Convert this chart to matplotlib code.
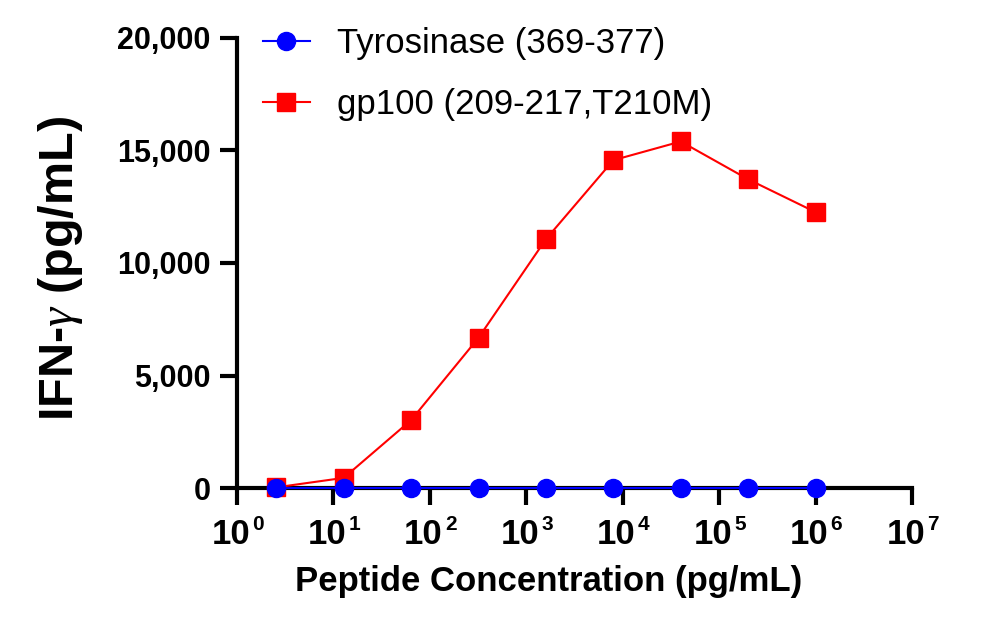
import matplotlib
matplotlib.use("Agg")
import matplotlib.pyplot as plt
from matplotlib.ticker import FuncFormatter, FixedLocator, NullLocator

plt.rcParams['font.family'] = ['Liberation Sans', 'DejaVu Sans']
plt.rcParams['mathtext.fontset'] = 'custom'
plt.rcParams['mathtext.rm'] = 'Liberation Sans:bold'
plt.rcParams['mathtext.bf'] = 'Liberation Sans:bold'
plt.rcParams['mathtext.it'] = 'Liberation Serif:italic'

concentration = [2.56, 12.8, 64, 320, 1600, 8000, 40000, 200000, 1000000]
tyrosinase = [20, 20, 20, 20, 20, 20, 20, 20, 20]
gp100 = [30, 450, 3020, 6680, 11060, 14570, 15400, 13720, 12260]
series_names = ["Tyrosinase (369-377)", "gp100 (209-217,T210M)"]
y_ticks = [0, 5000, 10000, 15000, 20000]
x_ticks = [1, 10, 100, 1000, 10000, 100000, 1000000, 10000000]
x_exponents = ["0", "1", "2", "3", "4", "5", "6", "7"]

fig = plt.figure(figsize=(9.84, 6.18), dpi=100)
ax = fig.add_axes([237/984, 1-488/618, (912-237)/984, (488-38)/618])

ax.plot(concentration, gp100, color='#FF0000', marker='s', markersize=13,
        linewidth=1.5, label=series_names[1], clip_on=False, zorder=3)
ax.plot(concentration, tyrosinase, color='#0000FF', marker='o', markersize=13,
        linewidth=1.5, label=series_names[0], clip_on=False, zorder=4)

ax.set_xscale('log')
ax.set_xlim(1, 1e7)
ax.set_ylim(0, 20000)
ax.xaxis.set_major_locator(FixedLocator(x_ticks))
ax.xaxis.set_minor_locator(NullLocator())
ax.set_xticklabels([])
ax.set_yticks(y_ticks)
ax.yaxis.set_major_formatter(FuncFormatter(lambda v, p: f"{int(v):,}"))

for s in ['top', 'right']:
    ax.spines[s].set_visible(False)
for s in ['left', 'bottom']:
    ax.spines[s].set_linewidth(3)
ax.tick_params(axis='both', width=3, length=12, direction='out')
ax.tick_params(axis='y', pad=7, labelsize=22)
for lab in ax.get_yticklabels():
    lab.set_fontweight('bold')

# x tick labels as "10" with a small raised exponent
for xt, ex in zip(x_ticks, x_exponents):
    ax.annotate("10", xy=(xt, 0), xycoords=('data', 'axes fraction'),
                xytext=(13, -30), textcoords='offset pixels',
                ha='right', va='top', fontsize=25, fontweight='bold',
                annotation_clip=False)
    ax.annotate(ex, xy=(xt, 0), xycoords=('data', 'axes fraction'),
                xytext=(15, -27), textcoords='offset pixels',
                ha='left', va='top', fontsize=15, fontweight='bold',
                annotation_clip=False)

ax.set_ylabel(r'IFN-$\gamma$ (pg/mL)', fontsize=35, fontweight='bold')
ax.yaxis.set_label_coords(-0.225, 0.489)
ax.set_xlabel('Peptide Concentration (pg/mL)', fontsize=25, fontweight='bold')
ax.xaxis.set_label_coords(0.461, -0.17)

handles, labels = ax.get_legend_handles_labels()
leg = ax.legend(handles[::-1], labels[::-1], loc='upper left', bbox_to_anchor=(0.0174, 1.055),
                frameon=False, fontsize=25, labelspacing=0.8, handlelength=1.35,
                handletextpad=0.8, borderaxespad=0)

fig.savefig('out.png', dpi=100)
